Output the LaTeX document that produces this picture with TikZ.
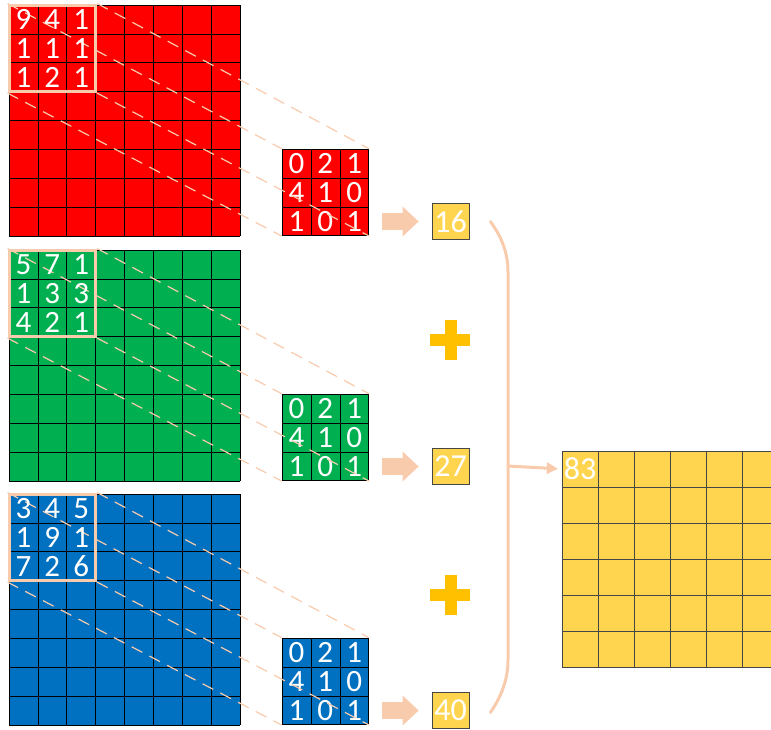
\documentclass[tikz,border=0pt]{standalone}
\usepackage{fontspec}
\setmainfont{Carlito}
\usetikzlibrary{arrows.meta,positioning,calc}
\definecolor{cnnRed}{RGB}{255,0,0}
\definecolor{cnnGreen}{RGB}{0,176,80}
\definecolor{cnnBlue}{RGB}{0,112,192}
\definecolor{cnnYellow}{RGB}{255,213,79}
\definecolor{cnnPeach}{RGB}{248,203,173}
\definecolor{cnnOrange}{RGB}{255,192,0}
\definecolor{cnnGrey}{RGB}{70,70,70}

\begin{document}
\begin{tikzpicture}[x=1pt,y=-1pt,
  digit/.style={text=white,inner sep=0pt,font=\fontsize{31}{31}\selectfont},
  window/.style={draw=cnnPeach,line width=3pt,minimum size=86.6pt,inner sep=0pt},
  kernel/.style={draw=black,line width=0.6pt,minimum size=86.7pt,inner sep=0pt},
  result/.style={draw=cnnGrey,line width=0.8pt,fill=cnnYellow,minimum width=37pt,minimum height=36pt,inner sep=0pt,text=white,font=\fontsize{32}{32}\selectfont},
  outcell/.style={minimum size=36pt,inner sep=0pt,text=white,font=\fontsize{32}{32}\selectfont},
  guide/.style={draw=cnnPeach,line width=1.2pt,dash pattern=on 12pt off 8pt},
  gridline/.style={black,line width=0.6pt},
  outline/.style={cnnGrey,line width=0.8pt},
  fatarrow/.style={draw=cnnPeach,line width=17pt,-{Triangle[length=16pt,width=30pt,line width=0pt]},shorten <=13pt,shorten >=13pt},
  brace/.style={draw=cnnPeach,line width=3pt,line cap=round}]
\useasboundingbox (0,0) rectangle (771,729);
\clip (0,0) rectangle (771,729);
\foreach \col/\top/\id/\res/\vals in {cnnRed/5/1/16/{9,4,1,1,1,1,1,2,1},cnnGreen/250/2/27/{5,7,1,1,3,3,4,2,1},cnnBlue/494/3/40/{3,4,5,1,9,1,7,2,6}} {
  \fill[\col] (9,\top) rectangle ++(231,231);
  \foreach \k in {0,...,8} {
    \draw[gridline] (9+\k*28.875,\top) -- ++(0,231);
    \draw[gridline] (9,\top+\k*28.875) -- ++(231,0);
  }
  \node[window] (win\id) at (52.3,\top+43.3) {};
  \node[kernel,fill=\col] (ker\id) at (325.35,\top+187.35) {};
  \foreach \k in {1,2} {
    \draw[gridline] (282+\k*28.9,\top+144) -- ++(0,86.7);
    \draw[gridline] (282,\top+144+\k*28.9) -- ++(86.7,0);
  }
  \foreach \v [count=\n from 0] in {0,2,1,4,1,0,1,0,1} {
    \pgfmathtruncatemacro\row{div(\n,3)}
    \pgfmathtruncatemacro\cl{mod(\n,3)}
    \node[digit] at (296.45+28.9*\cl,\top+158.45+28.9*\row) {\v};
  }
  \foreach \a in {north west,north east,south west,south east}
    \draw[guide] (win\id.\a) -- (ker\id.\a);
  \foreach \v [count=\n from 0] in \vals {
    \pgfmathtruncatemacro\row{div(\n,3)}
    \pgfmathtruncatemacro\cl{mod(\n,3)}
    \node[digit] at (23.44+28.875*\cl,\top+14.44+28.875*\row) {\v};
  }
  \node[result] (res\id) at (450.5,\top+216.5) {\res};
  \draw[fatarrow] (ker\id.east |- res\id.center) -- (res\id.west);
}
\foreach \py in {340,595} {
  \fill[cnnOrange] (430,\py-6) rectangle (470,\py+6);
  \fill[cnnOrange] (444.5,\py-20) rectangle (456.5,\py+20);
}
\fill[cnnYellow] (562,451) rectangle (778,667);
\foreach \k in {0,...,6} {
  \draw[outline] (562+36*\k,451) -- ++(0,216);
  \draw[outline] (562,451+36*\k) -- ++(216,0);
}
\node[outcell] (out11) at (580,469) {83};
\coordinate (braceTop) at ($(res1.east)+(21,0)$);
\coordinate (braceMid) at (508,466);
\coordinate (braceBot) at ($(res3.east)+(21,2)$);
\draw[brace] (braceTop) .. controls (501,236) and (508,252) .. (508,272) -- (508,660) .. controls (508,680) and (501,697) .. (braceBot);
\draw[brace,-{Triangle[length=11pt,width=12pt,line width=0pt]},shorten >=4pt] (braceMid) -- (out11.west);
\end{tikzpicture}
\end{document}
